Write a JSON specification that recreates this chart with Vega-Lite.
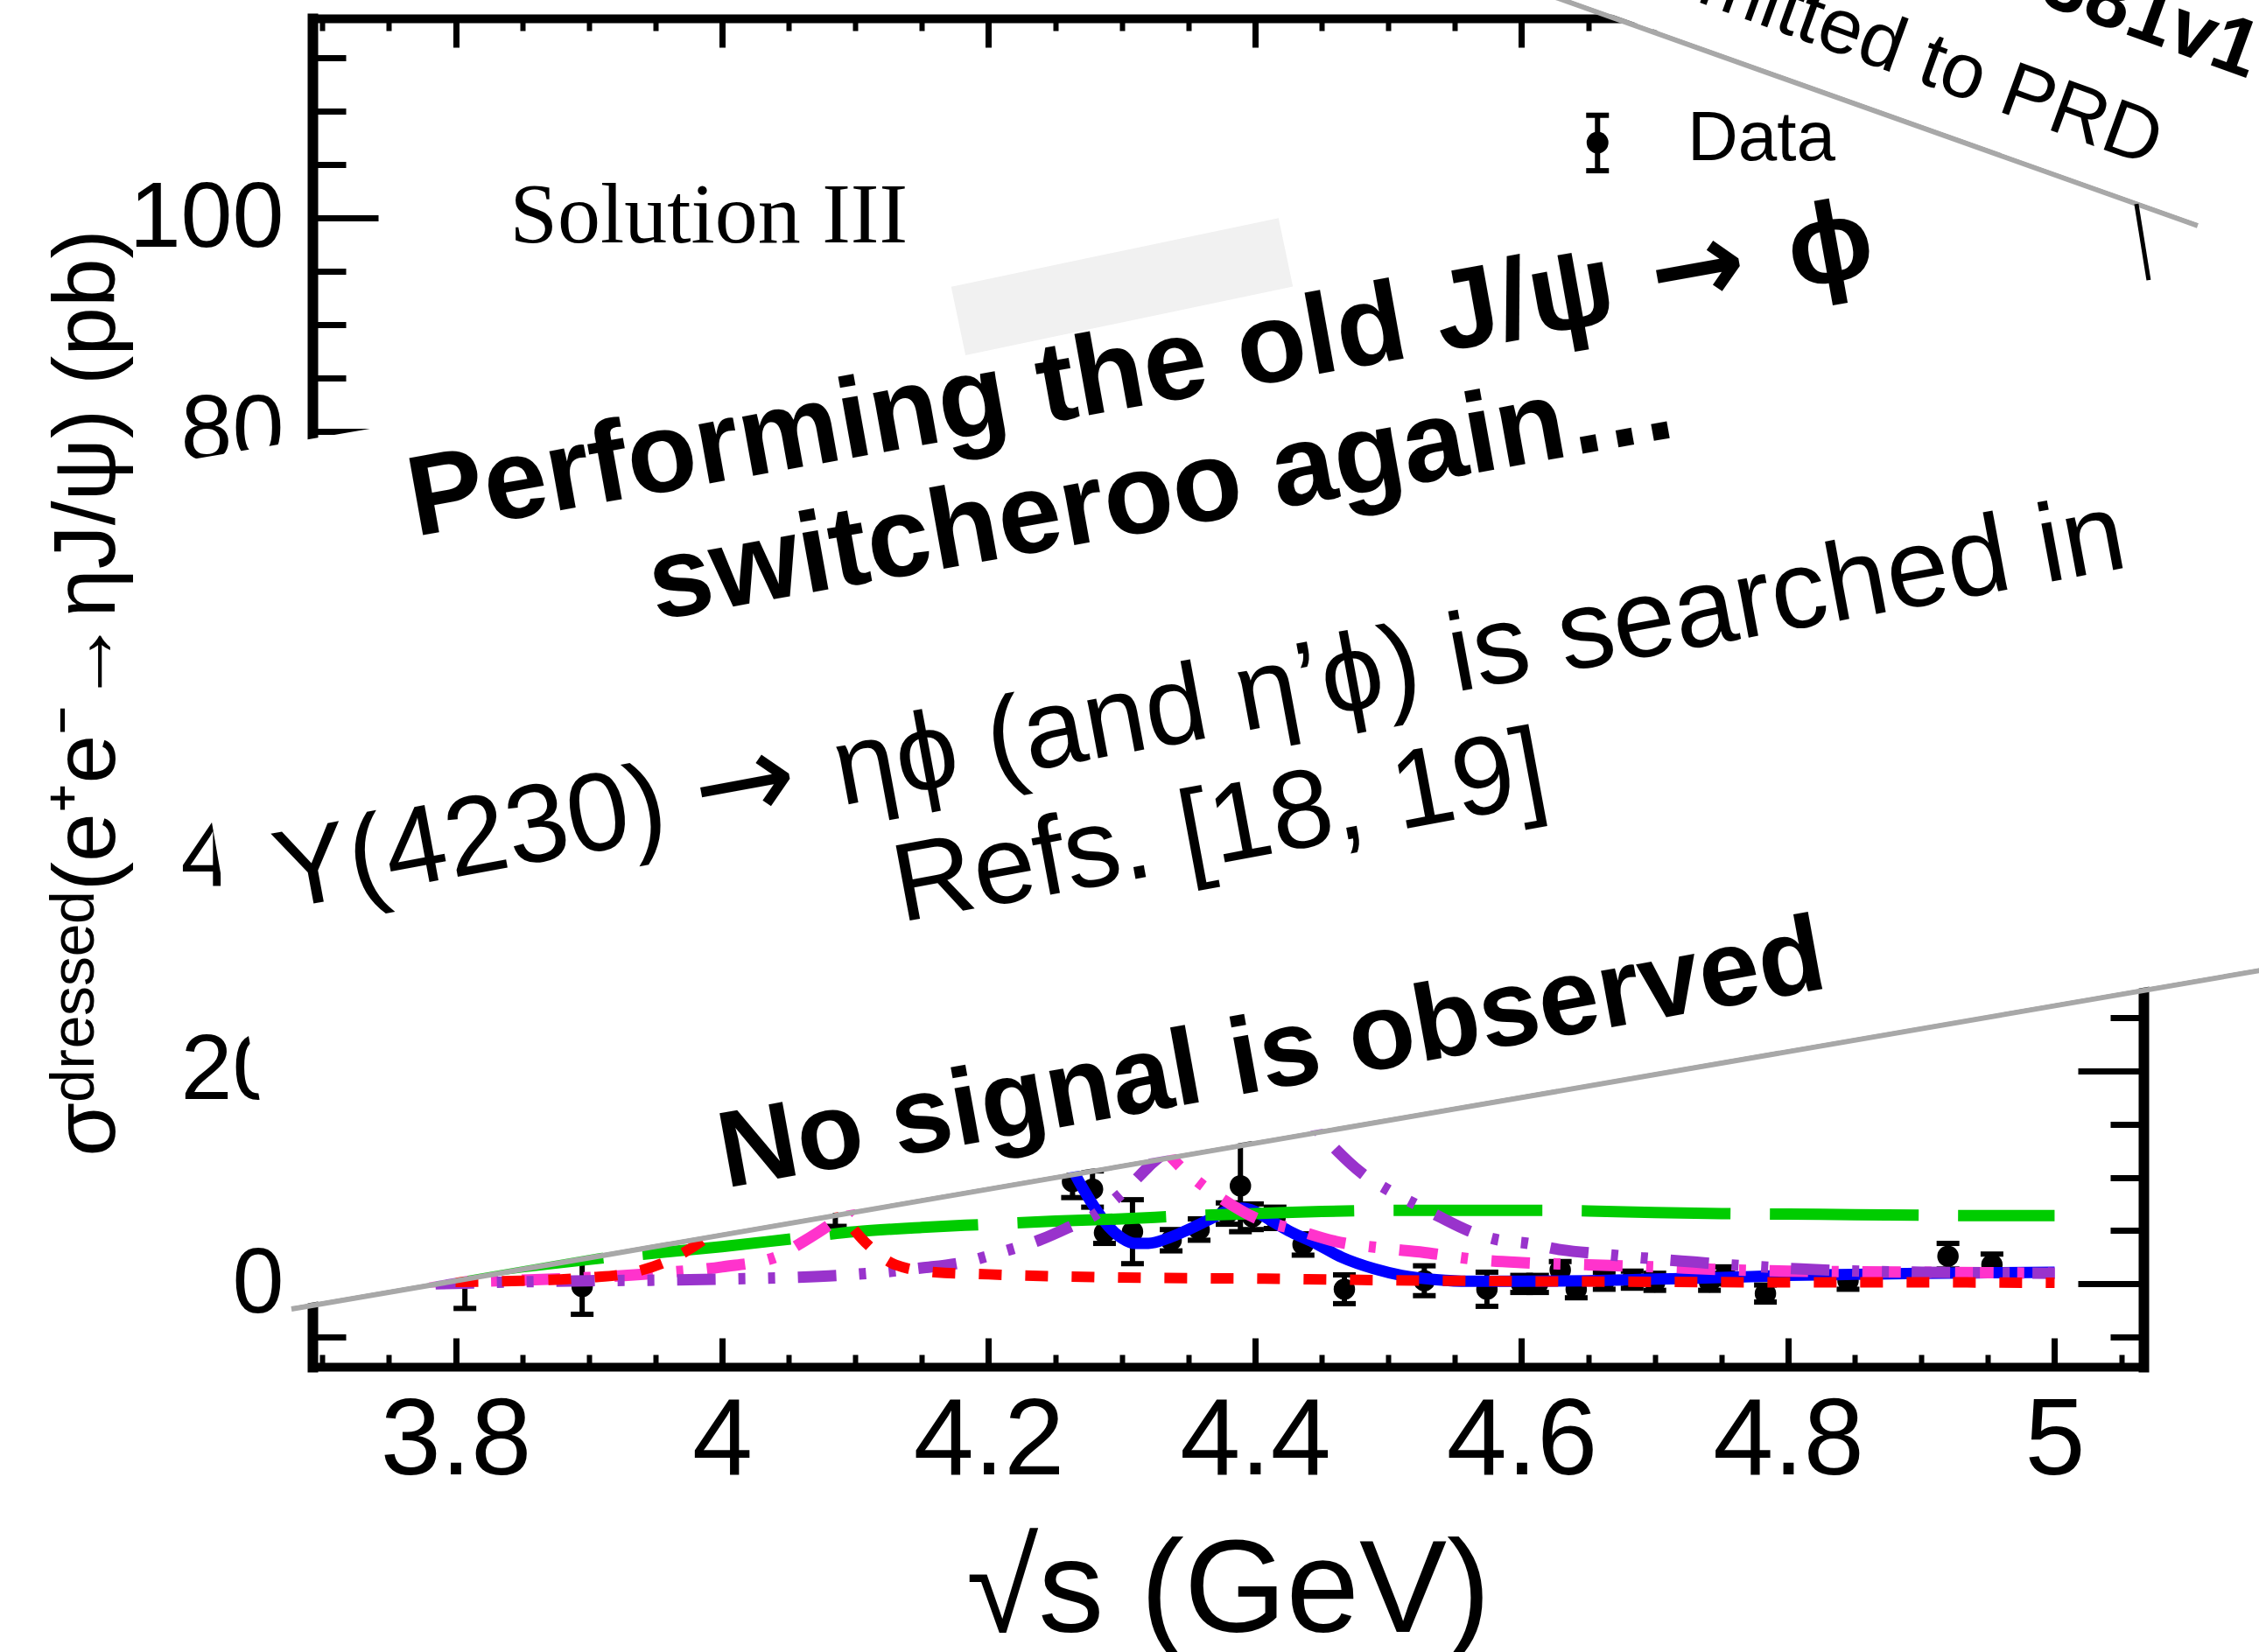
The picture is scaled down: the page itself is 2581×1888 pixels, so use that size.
{
  "$schema": "https://vega.github.io/schema/vega-lite/v6.json",
  "width": 2092,
  "height": 1541,
  "autosize": {"type": "none"},
  "padding": {"left": 357, "top": 21, "right": 132, "bottom": 326},
  "background": "white",
  "config": {
    "view": {"stroke": null},
    "axis": {"labelFont": "Liberation Sans", "titleFont": "Liberation Sans", "labelColor": "black", "titleColor": "black", "domainColor": "black", "tickColor": "black", "grid": false, "labelLimit": 1000, "titleLimit": 4000}
  },
  "resolve": {"axis": {"x": "independent", "y": "independent"}},
  "datasets": {
    "one": [{}],
    "points": [
      {"x": 3.807, "y": 1.2, "lo": -2.3, "hi": 4.7},
      {"x": 3.895, "y": -0.25, "lo": -2.85, "hi": 2.35},
      {"x": 4.085, "y": 8.0, "lo": 5.4, "hi": 10.6},
      {"x": 4.263, "y": 9.6, "lo": 8.1, "hi": 11.1},
      {"x": 4.278, "y": 8.9, "lo": 7.2, "hi": 10.6},
      {"x": 4.287, "y": 4.8, "lo": 3.8, "hi": 5.8},
      {"x": 4.308, "y": 4.9, "lo": 1.9, "hi": 7.9},
      {"x": 4.337, "y": 4.1, "lo": 3.1, "hi": 5.1},
      {"x": 4.358, "y": 5.1, "lo": 4.1, "hi": 6.1},
      {"x": 4.379, "y": 6.6, "lo": 5.6, "hi": 7.6},
      {"x": 4.389, "y": 9.2, "lo": 4.9, "hi": 13.5},
      {"x": 4.398, "y": 6.3, "lo": 5.1, "hi": 7.5},
      {"x": 4.415, "y": 6.2, "lo": 5.2, "hi": 7.2},
      {"x": 4.436, "y": 3.7, "lo": 2.7, "hi": 4.7},
      {"x": 4.467, "y": -0.5, "lo": -1.85, "hi": 0.85},
      {"x": 4.527, "y": 0.3, "lo": -1.1, "hi": 1.7},
      {"x": 4.574, "y": -0.5, "lo": -2.1, "hi": 1.1},
      {"x": 4.6, "y": 0.0, "lo": -0.8, "hi": 0.8},
      {"x": 4.612, "y": 0.0, "lo": -0.8, "hi": 0.8},
      {"x": 4.629, "y": 1.3, "lo": 0.5, "hi": 2.1},
      {"x": 4.641, "y": -0.5, "lo": -1.3, "hi": 0.3},
      {"x": 4.662, "y": 0.3, "lo": -0.5, "hi": 1.1},
      {"x": 4.683, "y": 0.4, "lo": -0.4, "hi": 1.2},
      {"x": 4.7, "y": 0.2, "lo": -0.6, "hi": 1.0},
      {"x": 4.741, "y": 0.2, "lo": -0.6, "hi": 1.0},
      {"x": 4.753, "y": 0.8, "lo": 0.0, "hi": 1.6},
      {"x": 4.783, "y": -0.9, "lo": -1.7, "hi": -0.1},
      {"x": 4.845, "y": 0.3, "lo": -0.5, "hi": 1.1},
      {"x": 4.92, "y": 2.6, "lo": 1.4, "hi": 3.8},
      {"x": 4.953, "y": 1.8, "lo": 0.8, "hi": 2.8}
    ],
    "blue": [
      {"x": 4.2, "y": 25}, {"x": 4.22, "y": 26}, {"x": 4.24, "y": 19}, {"x": 4.255, "y": 13.5},
      {"x": 4.263, "y": 10.8}, {"x": 4.272, "y": 8.7}, {"x": 4.281, "y": 6.9}, {"x": 4.29, "y": 5.4},
      {"x": 4.3, "y": 4.3}, {"x": 4.31, "y": 3.8}, {"x": 4.32, "y": 3.8}, {"x": 4.335, "y": 4.3},
      {"x": 4.35, "y": 5.1}, {"x": 4.365, "y": 6.0}, {"x": 4.38, "y": 6.9}, {"x": 4.39, "y": 7.1},
      {"x": 4.4, "y": 6.8}, {"x": 4.41, "y": 6.1}, {"x": 4.425, "y": 5.0}, {"x": 4.444, "y": 3.9},
      {"x": 4.465, "y": 2.5}, {"x": 4.49, "y": 1.4}, {"x": 4.51, "y": 0.8}, {"x": 4.536, "y": 0.4},
      {"x": 4.56, "y": 0.25}, {"x": 4.6, "y": 0.25}, {"x": 4.65, "y": 0.3}, {"x": 4.7, "y": 0.45},
      {"x": 4.75, "y": 0.6}, {"x": 4.8, "y": 0.8}, {"x": 4.85, "y": 0.9}, {"x": 4.9, "y": 1.0},
      {"x": 4.95, "y": 1.05}, {"x": 5.0, "y": 1.1}
    ],
    "green": [
      {"x": 3.8, "y": 0.8}, {"x": 3.85, "y": 1.6}, {"x": 3.9, "y": 2.3}, {"x": 3.95, "y": 2.9},
      {"x": 4.0, "y": 3.5}, {"x": 4.05, "y": 4.2}, {"x": 4.1, "y": 4.9}, {"x": 4.15, "y": 5.3},
      {"x": 4.2, "y": 5.6}, {"x": 4.25, "y": 5.9}, {"x": 4.3, "y": 6.1}, {"x": 4.35, "y": 6.4},
      {"x": 4.4, "y": 6.6}, {"x": 4.45, "y": 6.8}, {"x": 4.5, "y": 6.9}, {"x": 4.55, "y": 6.9},
      {"x": 4.6, "y": 6.9}, {"x": 4.65, "y": 6.85}, {"x": 4.7, "y": 6.7}, {"x": 4.75, "y": 6.6},
      {"x": 4.8, "y": 6.55}, {"x": 4.85, "y": 6.5}, {"x": 4.9, "y": 6.45}, {"x": 4.95, "y": 6.4},
      {"x": 5.0, "y": 6.4}
    ],
    "red": [
      {"x": 3.8, "y": 0.2}, {"x": 3.85, "y": 0.3}, {"x": 3.9, "y": 0.6}, {"x": 3.93, "y": 1.0},
      {"x": 3.96, "y": 2.2}, {"x": 3.99, "y": 4.5}, {"x": 4.02, "y": 8}, {"x": 4.05, "y": 11},
      {"x": 4.07, "y": 10}, {"x": 4.09, "y": 6.5}, {"x": 4.11, "y": 3.6}, {"x": 4.13, "y": 1.8},
      {"x": 4.16, "y": 1.1}, {"x": 4.2, "y": 0.9}, {"x": 4.3, "y": 0.6}, {"x": 4.4, "y": 0.5},
      {"x": 4.5, "y": 0.35}, {"x": 4.6, "y": 0.25}, {"x": 4.7, "y": 0.2}, {"x": 4.8, "y": 0.15},
      {"x": 4.9, "y": 0.15}, {"x": 5.0, "y": 0.1}
    ],
    "magenta": [
      {"x": 3.78, "y": 0.2}, {"x": 3.85, "y": 0.35}, {"x": 3.9, "y": 0.6}, {"x": 3.95, "y": 1.0},
      {"x": 4.0, "y": 1.6}, {"x": 4.04, "y": 2.5}, {"x": 4.06, "y": 3.9}, {"x": 4.08, "y": 5.5},
      {"x": 4.1, "y": 7.5}, {"x": 4.12, "y": 15}, {"x": 4.14, "y": 18}, {"x": 4.17, "y": 14},
      {"x": 4.2, "y": 14}, {"x": 4.25, "y": 18}, {"x": 4.3, "y": 22}, {"x": 4.32, "y": 15},
      {"x": 4.34, "y": 11.5}, {"x": 4.355, "y": 9.8}, {"x": 4.375, "y": 8.0}, {"x": 4.4, "y": 6.2},
      {"x": 4.43, "y": 5.1}, {"x": 4.46, "y": 4.0}, {"x": 4.5, "y": 3.3}, {"x": 4.53, "y": 2.9},
      {"x": 4.565, "y": 2.3}, {"x": 4.6, "y": 2.0}, {"x": 4.65, "y": 1.8}, {"x": 4.7, "y": 1.6},
      {"x": 4.75, "y": 1.35}, {"x": 4.8, "y": 1.2}, {"x": 4.85, "y": 1.15}, {"x": 4.9, "y": 1.1},
      {"x": 4.95, "y": 1.05}, {"x": 5.0, "y": 1.0}
    ],
    "purple": [
      {"x": 3.785, "y": 0.0}, {"x": 3.85, "y": 0.2}, {"x": 3.9, "y": 0.3}, {"x": 3.95, "y": 0.35},
      {"x": 4.0, "y": 0.45}, {"x": 4.05, "y": 0.6}, {"x": 4.1, "y": 0.9}, {"x": 4.15, "y": 1.5},
      {"x": 4.18, "y": 2.0}, {"x": 4.21, "y": 3.0}, {"x": 4.24, "y": 4.2}, {"x": 4.26, "y": 5.3},
      {"x": 4.28, "y": 6.5}, {"x": 4.3, "y": 8.5}, {"x": 4.32, "y": 11}, {"x": 4.34, "y": 13.5},
      {"x": 4.37, "y": 22}, {"x": 4.4, "y": 25}, {"x": 4.42, "y": 20}, {"x": 4.44, "y": 15.5},
      {"x": 4.46, "y": 12.7}, {"x": 4.48, "y": 10.4}, {"x": 4.5, "y": 8.8}, {"x": 4.52, "y": 7.5},
      {"x": 4.54, "y": 6.2}, {"x": 4.56, "y": 5.0}, {"x": 4.58, "y": 4.2}, {"x": 4.605, "y": 3.8},
      {"x": 4.63, "y": 3.2}, {"x": 4.66, "y": 2.8}, {"x": 4.69, "y": 2.45}, {"x": 4.72, "y": 2.15},
      {"x": 4.75, "y": 1.85}, {"x": 4.78, "y": 1.6}, {"x": 4.81, "y": 1.4}, {"x": 4.84, "y": 1.25},
      {"x": 4.87, "y": 1.15}, {"x": 4.9, "y": 1.1}, {"x": 4.95, "y": 1.05}, {"x": 5.0, "y": 1.0}
    ]
  },
  "layer": [
    {
      "data": {"name": "points"},
      "mark": {"type": "rule", "color": "black", "strokeWidth": 6},
      "encoding": {
        "x": {"field": "x", "type": "quantitative", "scale": {"domain": [3.6926, 5.0667]}, "axis": null},
        "y": {"field": "lo", "type": "quantitative", "scale": {"domain": [-7.77, 118.72]}, "axis": null},
        "y2": {"field": "hi"}
      }
    },
    {
      "data": {"name": "points"},
      "mark": {"type": "tick", "orient": "horizontal", "color": "black", "size": 26, "thickness": 6, "opacity": 1},
      "encoding": {
        "x": {"field": "x", "type": "quantitative", "scale": {"domain": [3.6926, 5.0667]}, "axis": null},
        "y": {"field": "lo", "type": "quantitative", "scale": {"domain": [-7.77, 118.72]}, "axis": null}
      }
    },
    {
      "data": {"name": "points"},
      "mark": {"type": "tick", "orient": "horizontal", "color": "black", "size": 26, "thickness": 6, "opacity": 1},
      "encoding": {
        "x": {"field": "x", "type": "quantitative", "scale": {"domain": [3.6926, 5.0667]}, "axis": null},
        "y": {"field": "hi", "type": "quantitative", "scale": {"domain": [-7.77, 118.72]}, "axis": null}
      }
    },
    {
      "data": {"name": "points"},
      "mark": {"type": "circle", "color": "black", "size": 600, "opacity": 1},
      "encoding": {
        "x": {"field": "x", "type": "quantitative", "scale": {"domain": [3.6926, 5.0667]}, "axis": null},
        "y": {"field": "y", "type": "quantitative", "scale": {"domain": [-7.77, 118.72]}, "axis": null}
      }
    },
    {
      "data": {"name": "blue"},
      "mark": {"type": "line", "color": "#0000ff", "strokeWidth": 13, "interpolate": "monotone"},
      "encoding": {
        "x": {"field": "x", "type": "quantitative", "scale": {"domain": [3.6926, 5.0667]},
          "axis": {"orient": "bottom", "values": [3.8, 4, 4.2, 4.4, 4.6, 4.8, 5], "format": "~g", "ticks": false, "domain": true, "domainWidth": 10, "domainCap": "square", "labelFontSize": 124, "labelPadding": 24, "labelFlush": false, "labelOverlap": false, "title": "√s (GeV)", "titleFontSize": 150, "titleFontWeight": "normal", "titlePadding": 36}},
        "y": {"field": "y", "type": "quantitative", "scale": {"domain": [-7.77, 118.72]},
          "axis": {"orient": "left", "values": [0, 20, 40, 60, 80, 100], "format": "d", "ticks": false, "domain": true, "domainWidth": 12, "domainCap": "square", "labelFontSize": 106, "labelPadding": 33, "labelFlush": false, "labelOverlap": false, "title": "σᵈʳᵉˢˢᵉᵈ(e⁺e⁻→ηJ/ψ) (pb)", "titleFontSize": 100, "titleFontWeight": "normal", "titlePadding": 6}}
      }
    },
    {
      "data": {"name": "green"},
      "mark": {"type": "line", "color": "#00cc00", "strokeWidth": 13, "interpolate": "monotone", "strokeDash": [170, 45]},
      "encoding": {
        "x": {"field": "x", "type": "quantitative", "scale": {"domain": [3.6926, 5.0667]},
          "axis": {"orient": "bottom", "values": [3.8, 4, 4.2, 4.4, 4.6, 4.8, 5], "ticks": true, "tickSize": -33, "tickWidth": 7, "labels": false, "domain": false, "title": null}},
        "y": {"field": "y", "type": "quantitative", "scale": {"domain": [-7.77, 118.72]},
          "axis": {"orient": "left", "values": [0, 20, 40, 60, 80, 100], "ticks": true, "tickSize": -75, "tickWidth": 7, "labels": false, "domain": false, "title": null}}
      }
    },
    {
      "data": {"name": "magenta"},
      "mark": {"type": "line", "color": "#ff33cc", "strokeWidth": 13, "interpolate": "monotone", "strokeDash": [44, 27, 8, 27]},
      "encoding": {
        "x": {"field": "x", "type": "quantitative", "scale": {"domain": [3.6926, 5.0667]},
          "axis": {"orient": "bottom", "values": [3.7, 3.75, 3.85, 3.9, 3.95, 4.05, 4.1, 4.15, 4.25, 4.3, 4.35, 4.45, 4.5, 4.55, 4.65, 4.7, 4.75, 4.85, 4.9, 4.95, 5.05], "ticks": true, "tickSize": -14, "tickWidth": 6, "labels": false, "domain": false, "title": null}},
        "y": {"field": "y", "type": "quantitative", "scale": {"domain": [-7.77, 118.72]},
          "axis": {"orient": "left", "values": [-5, 5, 10, 15, 25, 30, 35, 45, 50, 55, 65, 70, 75, 85, 90, 95, 105, 110, 115], "ticks": true, "tickSize": -38, "tickWidth": 7, "labels": false, "domain": false, "title": null}}
      }
    },
    {
      "data": {"name": "purple"},
      "mark": {"type": "line", "color": "#9933cc", "strokeWidth": 13, "interpolate": "monotone", "strokeDash": [44, 26, 8, 26, 8, 26]},
      "encoding": {
        "x": {"field": "x", "type": "quantitative", "scale": {"domain": [3.6926, 5.0667]},
          "axis": {"orient": "top", "values": [3.8, 4, 4.2, 4.4, 4.6, 4.8, 5], "ticks": true, "tickSize": -33, "tickWidth": 7, "labels": false, "domain": true, "domainWidth": 10, "domainCap": "square", "title": null}},
        "y": {"field": "y", "type": "quantitative", "scale": {"domain": [-7.77, 118.72]},
          "axis": {"orient": "right", "values": [0, 20, 40, 60, 80, 100], "ticks": true, "tickSize": -75, "tickWidth": 7, "labels": false, "domain": true, "domainWidth": 12, "domainCap": "square", "title": null}}
      }
    },
    {
      "data": {"name": "red"},
      "mark": {"type": "line", "color": "#ff0000", "strokeWidth": 12, "interpolate": "monotone", "strokeDash": [26, 27]},
      "encoding": {
        "x": {"field": "x", "type": "quantitative", "scale": {"domain": [3.6926, 5.0667]},
          "axis": {"orient": "top", "values": [3.7, 3.75, 3.85, 3.9, 3.95, 4.05, 4.1, 4.15, 4.25, 4.3, 4.35, 4.45, 4.5, 4.55, 4.65, 4.7, 4.75, 4.85, 4.9, 4.95, 5.05], "ticks": true, "tickSize": -14, "tickWidth": 6, "labels": false, "domain": false, "title": null}},
        "y": {"field": "y", "type": "quantitative", "scale": {"domain": [-7.77, 118.72]},
          "axis": {"orient": "right", "values": [-5, 5, 10, 15, 25, 30, 35, 45, 50, 55, 65, 70, 75, 85, 90, 95, 105, 110, 115], "ticks": true, "tickSize": -38, "tickWidth": 7, "labels": false, "domain": false, "title": null}}
      }
    },
    {
      "data": {"name": "one"},
      "mark": {"type": "text", "text": "Solution III", "font": "Liberation Serif", "fontSize": 98, "align": "left", "baseline": "alphabetic", "color": "black", "clip": false},
      "encoding": {
        "x": {"datum": 3.8407, "type": "quantitative", "scale": {"domain": [3.6926, 5.0667]}, "axis": null},
        "y": {"datum": 97.7, "type": "quantitative", "scale": {"domain": [-7.77, 118.72]}, "axis": null}
      }
    },
    {
      "data": {"name": "one"},
      "mark": {"type": "rule", "color": "black", "strokeWidth": 6, "clip": false},
      "encoding": {
        "x": {"datum": 4.657, "type": "quantitative", "scale": {"domain": [3.6926, 5.0667]}, "axis": null},
        "y": {"datum": 104.43, "type": "quantitative", "scale": {"domain": [-7.77, 118.72]}, "axis": null},
        "y2": {"datum": 109.63}
      }
    },
    {
      "data": {"name": "one"},
      "mark": {"type": "tick", "orient": "horizontal", "color": "black", "size": 26, "thickness": 6, "opacity": 1, "clip": false},
      "encoding": {
        "x": {"datum": 4.657, "type": "quantitative", "scale": {"domain": [3.6926, 5.0667]}, "axis": null},
        "y": {"datum": 104.43, "type": "quantitative", "scale": {"domain": [-7.77, 118.72]}, "axis": null}
      }
    },
    {
      "data": {"name": "one"},
      "mark": {"type": "tick", "orient": "horizontal", "color": "black", "size": 26, "thickness": 6, "opacity": 1, "clip": false},
      "encoding": {
        "x": {"datum": 4.657, "type": "quantitative", "scale": {"domain": [3.6926, 5.0667]}, "axis": null},
        "y": {"datum": 109.63, "type": "quantitative", "scale": {"domain": [-7.77, 118.72]}, "axis": null}
      }
    },
    {
      "data": {"name": "one"},
      "mark": {"type": "circle", "color": "black", "size": 620, "opacity": 1, "clip": false},
      "encoding": {
        "x": {"datum": 4.657, "type": "quantitative", "scale": {"domain": [3.6926, 5.0667]}, "axis": null},
        "y": {"datum": 107.06, "type": "quantitative", "scale": {"domain": [-7.77, 118.72]}, "axis": null}
      }
    },
    {
      "data": {"name": "one"},
      "mark": {"type": "text", "text": "Data", "font": "Liberation Sans", "fontSize": 80, "align": "left", "baseline": "alphabetic", "color": "black", "clip": false},
      "encoding": {
        "x": {"datum": 4.7245, "type": "quantitative", "scale": {"domain": [3.6926, 5.0667]}, "axis": null},
        "y": {"datum": 105.4, "type": "quantitative", "scale": {"domain": [-7.77, 118.72]}, "axis": null}
      }
    },
    {
      "data": {"name": "one"},
      "mark": {"type": "rule", "color": "#a8a8a8", "strokeWidth": 6, "clip": false},
      "encoding": {
        "x": {"datum": 3.6768, "type": "quantitative", "scale": {"domain": [3.6926, 5.0667]}, "axis": null},
        "y": {"datum": -2.356, "type": "quantitative", "scale": {"domain": [-7.77, 118.72]}, "axis": null},
        "x2": {"datum": 5.2315},
        "y2": {"datum": 31.07}
      }
    },
    {
      "data": {"name": "one"},
      "mark": {"type": "rule", "color": "white", "strokeWidth": 973, "strokeCap": "butt", "clip": false},
      "encoding": {
        "x": {"datum": 3.6253, "type": "quantitative", "scale": {"domain": [3.6926, 5.0667]}, "axis": null},
        "y": {"datum": 37.33, "type": "quantitative", "scale": {"domain": [-7.77, 118.72]}, "axis": null},
        "x2": {"datum": 5.3731},
        "y2": {"datum": 74.91}
      }
    },
    {
      "data": {"name": "one"},
      "mark": {"type": "rule", "color": "#f1f1f1", "strokeWidth": 80, "strokeCap": "butt", "clip": false},
      "encoding": {
        "x": {"datum": 4.1773, "type": "quantitative", "scale": {"domain": [3.6926, 5.0667]}, "axis": null},
        "y": {"datum": 90.33, "type": "quantitative", "scale": {"domain": [-7.77, 118.72]}, "axis": null},
        "x2": {"datum": 4.423},
        "y2": {"datum": 96.77}
      }
    },
    {
      "data": {"name": "one"},
      "mark": {"type": "rule", "color": "#a8a8a8", "strokeWidth": 6, "clip": false},
      "encoding": {
        "x": {"datum": 4.4427, "type": "quantitative", "scale": {"domain": [3.6926, 5.0667]}, "axis": null},
        "y": {"datum": 128.82, "type": "quantitative", "scale": {"domain": [-7.77, 118.72]}, "axis": null},
        "x2": {"datum": 5.1074},
        "y2": {"datum": 99.28}
      }
    },
    {
      "data": {"name": "one"},
      "mark": {"type": "rule", "color": "white", "strokeWidth": 700, "strokeCap": "butt", "clip": false},
      "encoding": {
        "x": {"datum": 4.4552, "type": "quantitative", "scale": {"domain": [3.6926, 5.0667]}, "axis": null},
        "y": {"datum": 159.03, "type": "quantitative", "scale": {"domain": [-7.77, 118.72]}, "axis": null},
        "x2": {"datum": 5.1855},
        "y2": {"datum": 126.56}
      }
    },
    {
      "data": {"name": "one"},
      "mark": {"type": "rule", "color": "black", "strokeWidth": 5, "clip": false},
      "encoding": {
        "x": {"datum": 5.0614, "type": "quantitative", "scale": {"domain": [3.6926, 5.0667]}, "axis": null},
        "y": {"datum": 101.31, "type": "quantitative", "scale": {"domain": [-7.77, 118.72]}, "axis": null},
        "x2": {"datum": 5.0706},
        "y2": {"datum": 94.17}
      }
    },
    {
      "data": {"name": "one"},
      "mark": {"type": "text", "text": "Submitted to PRD", "font": "Liberation Sans", "fontSize": 89, "align": "right", "baseline": "alphabetic", "angle": 20, "color": "black", "clip": false},
      "encoding": {
        "x": {"datum": 5.072, "type": "quantitative", "scale": {"domain": [3.6926, 5.0667]}, "axis": null},
        "y": {"datum": 104.8, "type": "quantitative", "scale": {"domain": [-7.77, 118.72]}, "axis": null}
      }
    },
    {
      "data": {"name": "one"},
      "mark": {"type": "text", "text": "arXiv:2308.03381v1", "font": "Liberation Sans", "fontSize": 92, "fontWeight": "bold", "align": "right", "baseline": "alphabetic", "angle": 20, "color": "black", "clip": false},
      "encoding": {
        "x": {"datum": 5.1452, "type": "quantitative", "scale": {"domain": [3.6926, 5.0667]}, "axis": null},
        "y": {"datum": 113.05, "type": "quantitative", "scale": {"domain": [-7.77, 118.72]}, "axis": null}
      }
    },
    {
      "data": {"name": "one"},
      "mark": {"type": "text", "text": "Performing the old J/ψ \u2003 ϕ", "font": "Liberation Sans", "fontSize": 130, "fontWeight": "bold", "align": "center", "baseline": "alphabetic", "angle": 349.8, "color": "black", "clip": false},
      "encoding": {
        "x": {"datum": 4.3187, "type": "quantitative", "scale": {"domain": [3.6926, 5.0667]}, "axis": null},
        "y": {"datum": 82.47, "type": "quantitative", "scale": {"domain": [-7.77, 118.72]}, "axis": null}
      }
    },
    {
      "data": {"name": "one"},
      "mark": {"type": "text", "text": "→", "font": "DejaVu Sans", "fontSize": 130, "fontWeight": "bold", "align": "center", "baseline": "alphabetic", "angle": 349.8, "color": "black", "clip": false},
      "encoding": {
        "x": {"datum": 4.7369, "type": "quantitative", "scale": {"domain": [3.6926, 5.0667]}, "axis": null},
        "y": {"datum": 91.87, "type": "quantitative", "scale": {"domain": [-7.77, 118.72]}, "axis": null}
      }
    },
    {
      "data": {"name": "one"},
      "mark": {"type": "text", "text": "switcheroo again…", "font": "Liberation Sans", "fontSize": 130, "fontWeight": "bold", "align": "center", "baseline": "alphabetic", "angle": 349.8, "color": "black", "clip": false},
      "encoding": {
        "x": {"datum": 4.3355, "type": "quantitative", "scale": {"domain": [3.6926, 5.0667]}, "axis": null},
        "y": {"datum": 70.91, "type": "quantitative", "scale": {"domain": [-7.77, 118.72]}, "axis": null}
      }
    },
    {
      "data": {"name": "one"},
      "mark": {"type": "text", "text": "Y(4230) \u2003 ηϕ (and η’ϕ) is searched in", "font": "Liberation Sans", "fontSize": 127, "align": "center", "baseline": "alphabetic", "angle": 349.5, "color": "black", "clip": false},
      "encoding": {
        "x": {"datum": 4.3632, "type": "quantitative", "scale": {"domain": [3.6926, 5.0667]}, "axis": null},
        "y": {"datum": 51.2, "type": "quantitative", "scale": {"domain": [-7.77, 118.72]}, "axis": null}
      }
    },
    {
      "data": {"name": "one"},
      "mark": {"type": "text", "text": "→", "font": "DejaVu Sans", "fontSize": 140, "align": "center", "baseline": "alphabetic", "angle": 349.5, "color": "black", "clip": false},
      "encoding": {
        "x": {"datum": 4.0222, "type": "quantitative", "scale": {"domain": [3.6926, 5.0667]}, "axis": null},
        "y": {"datum": 43.33, "type": "quantitative", "scale": {"domain": [-7.77, 118.72]}, "axis": null}
      }
    },
    {
      "data": {"name": "one"},
      "mark": {"type": "text", "text": "Refs. [18, 19]", "font": "Liberation Sans", "fontSize": 127, "align": "center", "baseline": "alphabetic", "angle": 349.5, "color": "black", "clip": false},
      "encoding": {
        "x": {"datum": 4.3781, "type": "quantitative", "scale": {"domain": [3.6926, 5.0667]}, "axis": null},
        "y": {"datum": 39.57, "type": "quantitative", "scale": {"domain": [-7.77, 118.72]}, "axis": null}
      }
    },
    {
      "data": {"name": "one"},
      "mark": {"type": "text", "text": "No signal is observed", "font": "Liberation Sans", "fontSize": 124, "fontWeight": "bold", "align": "center", "baseline": "alphabetic", "angle": 349.7, "color": "black", "clip": false},
      "encoding": {
        "x": {"datum": 4.417, "type": "quantitative", "scale": {"domain": [3.6926, 5.0667]}, "axis": null},
        "y": {"datum": 18.4, "type": "quantitative", "scale": {"domain": [-7.77, 118.72]}, "axis": null}
      }
    }
  ]
}
